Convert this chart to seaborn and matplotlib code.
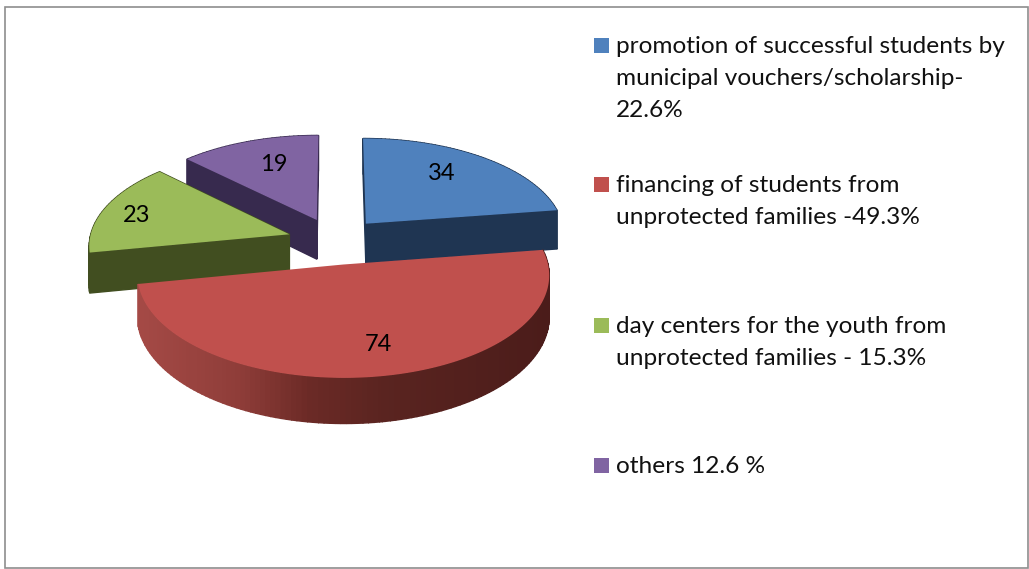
import matplotlib
matplotlib.use('Agg')
import matplotlib.pyplot as plt
import numpy as np
import seaborn as sns
from matplotlib.colors import LinearSegmentedColormap
from matplotlib.patches import Rectangle
from matplotlib.path import Path
from matplotlib.transforms import Affine2D, Transform

categories = ['promotion of successful students by\nmunicipal vouchers/scholarship-\n22.6%',
              'financing of students from\nunprotected families -49.3%',
              'day centers for the youth from\nunprotected families - 15.3%',
              'others 12.6 %']
values = [34, 74, 23, 19]
top_colors = ['#4f81bd', '#c0504d', '#9bbb59', '#8064a2']
wall_colors = ['#1f3552', '#5a2420', '#414e20', '#372a4e']
legend_rows = [45, 184, 325, 465]
label_pos = [(442, 173), (378, 344), (137, 215), (274, 164)]

# pie centre and scales in pixels, tilt makes the back of the pie smaller
CX, CY = 335, 241
RX, RY = 200, 97
TILT = 0.10
DEPTH = 40


def project(xy):
    xy = np.asarray(xy, dtype=float)
    w = 1 + TILT * xy[:, 1]
    return np.column_stack([CX + RX * xy[:, 0] / w, CY - RY * xy[:, 1] / w])


def flatten(path):
    # curves only get split finely at a large scale
    return path.to_polygons(Affine2D().scale(1000))[0] / 1000


class PieProjection(Transform):
    input_dims = 2
    output_dims = 2
    is_affine = False

    def transform_non_affine(self, values):
        return project(values)

    def transform_path_non_affine(self, path):
        return Path(project(flatten(path)))


sns.set_theme(style='white')
plt.rcParams['font.family'] = ['Lato', 'DejaVu Sans']

fig = plt.figure(figsize=(10.29, 5.69), dpi=100, facecolor='white')
ax = fig.add_axes([0, 0, 1, 1])

wedges, _ = ax.pie(values, colors=sns.color_palette(top_colors), startangle=90,
                   counterclock=False, explode=[0.24] * len(values),
                   wedgeprops={'linewidth': 0})
ax.set_aspect('auto')
ax.set_xlim(0, 1029)
ax.set_ylim(569, 0)
ax.axis('off')

red_side = LinearSegmentedColormap.from_list(
    'red_side', [(0, '#a54a46'), (0.25, '#8f3d39'), (0.42, '#6b2a26'),
                 (0.6, '#5a2420'), (1, '#4b1c1a')])

# paint back slices first so the front ones cover them
draw_order = [3, 2, 0, 1]
for z, i in enumerate(draw_order):
    wedge = wedges[i]
    poly = flatten(wedge.get_path())
    flat = project(poly)
    w = 1 + TILT * poly[:, 1]
    low = flat + np.column_stack([np.zeros(len(flat)), DEPTH / w])

    for k in range(len(flat) - 1):
        q = np.array([flat[k], flat[k + 1], low[k + 1], low[k]])
        color = wall_colors[i]
        if i == 1:
            # the red slice only shows its round side, not the cut edges
            if np.hypot(*(flat[k + 1] - flat[k])) > 50:
                continue
            color = red_side((q[:, 0].mean() - 137) / 413)
        ax.fill(q[:, 0], q[:, 1], color=color, lw=1.0, zorder=2 * z + 1)

    wedge.set_transform(PieProjection() + ax.transData)
    wedge.set_zorder(2 * z + 2)

for v, (x, y) in zip(values, label_pos):
    ax.text(x, y, str(v), fontsize=17, color='black', ha='center', va='center', zorder=20)

for name, color, y in zip(categories, top_colors, legend_rows):
    ax.add_patch(Rectangle((594, y - 7.5), 15, 15, facecolor=color, edgecolor='none'))
    ax.text(616, y - 9, name, fontsize=17.6, color='#111111', va='top', linespacing=1.66)

ax.add_patch(Rectangle((4.5, 6.5), 1023, 561, facecolor='none', edgecolor='#8e8e8e',
                       lw=1.2, clip_on=False))

fig.savefig('out.png', dpi=100)
